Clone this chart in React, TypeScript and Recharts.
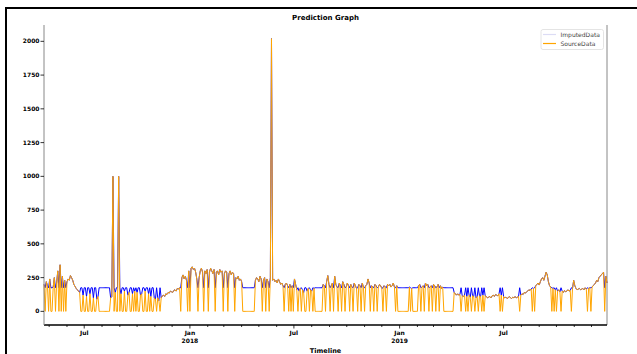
import { LineChart, Line, XAxis, YAxis, ReferenceLine } from 'recharts'

// Series sampled every 2 days from 2017-04-22. 0 = missing in the source data.
const segA = [
  200, 0, 220, 190, 0, 240, 0, 0, 180, 250,
  0, 210, 300, 0, 345, 0, 260, 0, 230, 0,
  220, 240, 230, 265, 250, 230, 200, 185, 170, 160,
  150, 140, 0, 0, 120, 0, 0, 110, 0, 0,
  130, 0, 0, 100, 0, 0, 90, 110, 0, 0,
  0, 0, 0, 0, 0, 0, 0, 0, 100, 110,
  1000, 0, 140, 0, 0, 1000, 0, 130, 0, 0,
  150, 0, 0, 120, 140, 0, 0, 130, 0, 150,
  0, 140, 0, 0, 120, 130, 0, 0, 150, 0,
  0, 130, 0, 110, 0, 0, 100, 90, 0, 100,
]
const segB = [
  80, 0, 100, 115, 120, 110, 130, 125, 140, 135,
  150, 145, 140, 155, 160, 150, 170, 165, 175, 0,
  250, 270, 240, 260, 230, 0, 300, 0, 320, 330,
  310, 320, 290, 240, 0, 250, 300, 320, 290, 0,
  300, 280, 310, 0, 290, 320, 300, 280, 310, 0,
  290, 300, 270, 310, 290, 300, 0, 280, 300, 290,
  0, 280, 300, 270, 290, 280, 0, 250, 240, 260,
  230, 240, 220, 0, 0, 0, 0, 0, 0, 0,
  0, 0, 0, 0, 230, 250, 240, 220, 260, 240,
  0, 230, 250, 0, 240, 220, 0, 250, 2020, 230,
]
const segC = [
  240, 220, 230, 210, 240, 220, 200, 210, 190, 0,
  200, 210, 190, 0, 200, 0, 190, 0, 240, 200,
  160, 0, 150, 170, 0, 160, 140, 0, 0, 150,
  170, 0, 160, 150, 0, 170, 0, 0, 0, 0,
  0, 0, 0, 200, 190, 0, 220, 265, 200, 0,
  190, 210, 0, 260, 200, 180, 0, 210, 190, 0,
  220, 200, 0, 180, 210, 190, 0, 200, 180, 0,
  210, 190, 170, 0, 200, 190, 0, 210, 180, 0,
  190, 200, 240, 210, 0, 190, 180, 0, 200, 190,
  0, 180, 200, 190, 170, 0, 190, 180, 0, 200,
]
const segD = [
  190, 200, 180, 190, 210, 180, 0, 190, 0, 0,
  0, 0, 0, 0, 0, 0, 0, 0, 180, 0,
  170, 0, 0, 0, 0, 0, 190, 200, 0, 180,
  190, 0, 210, 190, 200, 0, 180, 190, 0, 200,
  190, 0, 180, 200, 0, 190, 170, 180, 0, 0,
  0, 0, 0, 0, 0, 0, 0, 140, 130, 120,
  130, 120, 125, 0, 115, 110, 120, 0, 110, 0,
  120, 105, 0, 115, 110, 0, 100, 110, 0, 115,
  110, 0, 120, 0, 115, 110, 100, 105, 110, 100,
  115, 120, 110, 125, 120, 115, 130, 0, 120, 0,
]
const segE = [
  110, 100, 105, 95, 100, 110, 100, 95, 105, 100,
  110, 100, 105, 110, 0, 120, 130, 125, 140, 135,
  145, 150, 160, 155, 165, 0, 170, 0, 190, 200,
  210, 195, 220, 240, 250, 230, 260, 290, 270, 220,
  190, 180, 0, 170, 0, 160, 0, 150, 160, 145,
  0, 150, 140, 155, 145, 150, 160, 150, 155, 0,
  170, 230, 190, 170, 160, 165, 170, 160, 165, 170,
  160, 175, 165, 0, 170, 175, 0, 180, 190, 200,
  210, 230, 220, 250, 260, 270, 280, 290, 0, 260,
  210,
]
// value the imputation puts in where the source is missing
const IMPUTED_FILL = 175

const yTicks = [0, 250, 500, 750, 1000, 1250, 1500, 1750, 2000]
const tickDates = ['2017-07-01', '2018-01-01', '2018-07-01', '2019-01-01', '2019-07-01']
const tickLabels = ['Jul', 'Jan', 'Jul', 'Jan', 'Jul']
const tickYears = ['', '2018', '', '2019', '']

const DAY = 86400000
const START = Date.UTC(2017, 3, 22)
const STEP = 2 * DAY

const source = [...segA, ...segB, ...segC, ...segD, ...segE]
const END = START + (source.length - 1) * STEP
const data = source.map((v, i) => ({
  t: START + i * STEP,
  source: v,
  imputed: v === 0 ? IMPUTED_FILL : v,
}))

const monthTicks: number[] = []
for (let y = 2017; y <= 2019; y++) {
  for (let m = 0; m < 12; m++) {
    const t = Date.UTC(y, m, 1)
    if (t >= START && t <= END) monthTicks.push(t)
  }
}

const W = 637
const H = 354
const PLOT_BOTTOM = 325
const FONT = '"DejaVu Sans", sans-serif'

function MonthTick({ x, payload }: any) {
  const idx = tickDates.findIndex((d) => Date.parse(d) === payload.value)
  const major = idx >= 0
  return (
    <g>
      <line x1={x} x2={x} y1={PLOT_BOTTOM} y2={PLOT_BOTTOM + (major ? 3.5 : 2)} stroke="#000" strokeWidth={0.8} />
      {major && (
        <text x={x} y={PLOT_BOTTOM + 10} textAnchor="middle" fontSize={6} fontWeight="bold" fontFamily={FONT} fill="#000">
          {tickLabels[idx]}
        </text>
      )}
      {major && tickYears[idx] && (
        <text x={x} y={PLOT_BOTTOM + 18} textAnchor="middle" fontSize={6} fontWeight="bold" fontFamily={FONT} fill="#000">
          {tickYears[idx]}
        </text>
      )}
    </g>
  )
}

export default function App() {
  return (
    <div style={{ position: 'absolute', left: 0, top: 0, width: W, height: H, background: '#fff', overflow: 'hidden' }}>
      {/* figure frame */}
      <div style={{ position: 'absolute', left: 5, top: 7, width: W, height: H, borderLeft: '2px solid #000', borderTop: '2px solid #000' }} />

      <div style={{ position: 'absolute', left: 0, top: 0 }}>
        <LineChart width={W} height={H} data={data} margin={{ top: 25, right: 30, bottom: 0, left: 4 }}>
          <XAxis
            dataKey="t"
            type="number"
            domain={[START, END]}
            ticks={monthTicks}
            interval={0}
            tick={<MonthTick />}
            tickLine={false}
            axisLine={{ stroke: '#000', strokeWidth: 1.5 }}
            height={29}
          />
          <YAxis
            type="number"
            domain={[-101, 2121]}
            ticks={yTicks}
            interval={0}
            allowDataOverflow
            width={40}
            tickSize={3.5}
            tickMargin={1}
            tickLine={{ stroke: '#000', strokeWidth: 0.8 }}
            axisLine={{ stroke: '#888' }}
            tick={{ fontSize: 6, fontWeight: 'bold', fontFamily: FONT, fill: '#000' }}
          />
          <ReferenceLine x={END} stroke="#888" ifOverflow="visible" />
          <Line dataKey="imputed" stroke="#0000ff" strokeWidth={1} dot={false} isAnimationActive={false} />
          <Line dataKey="source" stroke="#ffa500" strokeWidth={1} dot={false} isAnimationActive={false} />
        </LineChart>
      </div>

      {/* title, legend, axis label */}
      <svg width={W} height={H} style={{ position: 'absolute', left: 0, top: 0, pointerEvents: 'none' }}>
        <text x={325.5} y={20} textAnchor="middle" fontSize={7} fontWeight="bold" fontFamily={FONT} fill="#000">
          Prediction Graph
        </text>
        <text x={325.5} y={353} textAnchor="middle" fontSize={6.5} fontWeight="bold" fontFamily={FONT} fill="#000">
          Timeline
        </text>
        <rect x={541} y={29.5} width={62.5} height={20} rx={2} fill="#fff" stroke="#ddd" strokeWidth={0.8} />
        <line x1={543} x2={556} y1={34.5} y2={34.5} stroke="#dcdcf5" strokeWidth={1.2} />
        <text x={560.5} y={36.7} fontSize={6} fontFamily={FONT} fill="#444">ImputedData</text>
        <line x1={543} x2={556} y1={43.5} y2={43.5} stroke="#ffa500" strokeWidth={1.2} />
        <text x={560.5} y={45.7} fontSize={6} fontFamily={FONT} fill="#444">SourceData</text>
      </svg>
    </div>
  )
}
